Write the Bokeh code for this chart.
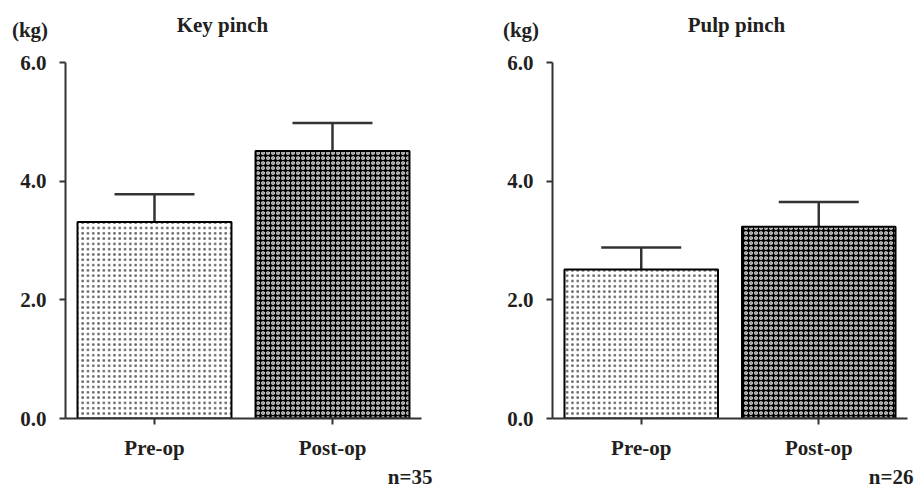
from bokeh.plotting import figure
from bokeh.layouts import row, column
from bokeh.models import (ColumnDataSource, FactorRange, Range1d, FixedTicker,
                          NumeralTickFormatter, Whisker, TeeHead)
from bokeh.core.properties import value
from bokeh.embed import file_html
from bokeh.resources import INLINE

# ---- data ----
groups = ["Pre-op", "Post-op"]
key_means = [3.31, 4.51]
key_upper = [3.78, 4.98]
pulp_means = [2.51, 3.23]
pulp_upper = [2.88, 3.65]
y_ticks = [0, 2, 4, 6]
titles = ["Key pinch", "Pulp pinch"]
unit_labels = ["(kg)", "(kg)"]
n_labels = ["n=35", "n=26"]

FONT = "Liberation Serif"
TXT = "#231f20"
LINE = "#333333"
FS = "21px"
W = 917
HEAD_H = 50
FOOT_H = 27
MAIN_H = 489 - HEAD_H - FOOT_H
FRAME_TOP = 62
FRAME_BOTTOM = 418


def strip(height):
    s = figure(width=W, height=height, x_range=Range1d(0, W), y_range=Range1d(height, 0),
               output_backend="svg", toolbar_location=None, x_axis_type=None,
               y_axis_type=None, min_border=0)
    s.outline_line_color = None
    s.xgrid.grid_line_color = None
    s.ygrid.grid_line_color = None
    return s


def add_text(s, xs, ys, texts, align):
    s.text(x=xs, y=ys, text=texts, text_align=align, text_baseline="alphabetic",
           text_font=value(FONT), text_font_style="bold", text_font_size=FS,
           text_color=TXT)


# header: unit labels and panel titles
head = strip(HEAD_H)
add_text(head, [29.5, 520.5], [29, 29], unit_labels, "center")
add_text(head, [222, 736], [24, 24], titles, "center")

# footer: sample sizes
foot = strip(FOOT_H)
add_text(foot, [432, 913], [14, 14], n_labels, "right")


def panel(means, upper, width, left, right):
    p = figure(width=width, height=MAIN_H, x_range=FactorRange(*groups, range_padding=0),
               y_range=Range1d(0, 6), output_backend="svg", toolbar_location=None,
               min_border_left=left, min_border_right=right,
               min_border_top=FRAME_TOP - HEAD_H,
               min_border_bottom=HEAD_H + MAIN_H - FRAME_BOTTOM)
    p.outline_line_color = None
    p.xgrid.grid_line_color = None
    p.ygrid.grid_line_color = None

    src = ColumnDataSource(dict(
        x=groups, top=means, upper=upper,
        fill=["white", "black"],
        hcolor=["black", "white"],
        halpha=[0.6, 1.0],
        hpat=["dot", "ring"],
        hscale=[5.3, 5.0],
    ))
    p.vbar(x="x", top="top", width=0.865, source=src, fill_color="fill",
           hatch_pattern="hpat", hatch_color="hcolor", hatch_scale="hscale",
           hatch_alpha="halpha", hatch_weight=1.2, line_color="black", line_width=2)

    w = Whisker(base="x", lower="top", upper="upper", source=src,
                line_color=LINE, line_width=2.5,
                upper_head=TeeHead(size=80, line_color=LINE, line_width=2.5),
                lower_head=None)
    p.add_layout(w)

    for ax in (p.xaxis[0], p.yaxis[0]):
        ax.axis_line_color = LINE
        ax.axis_line_width = 2
        ax.major_tick_line_color = LINE
        ax.major_tick_line_width = 2
        ax.major_tick_out = 6
        ax.major_tick_in = 0
        ax.minor_tick_line_color = None
        ax.major_label_text_font = FONT
        ax.major_label_text_font_style = "bold"
        ax.major_label_text_font_size = FS
        ax.major_label_text_color = TXT
    p.yaxis.ticker = FixedTicker(ticks=y_ticks)
    p.yaxis.formatter = NumeralTickFormatter(format="0.0")
    p.yaxis.major_label_standoff = 13
    p.xaxis.major_label_standoff = 11
    return p


p1 = panel(key_means, key_upper, 458, 65, 37)
p2 = panel(pulp_means, pulp_upper, 459, 94, 10)

layout = column(head, row(p1, p2, spacing=0), foot, spacing=0)
open("out.html", "w").write(file_html(layout, INLINE))
